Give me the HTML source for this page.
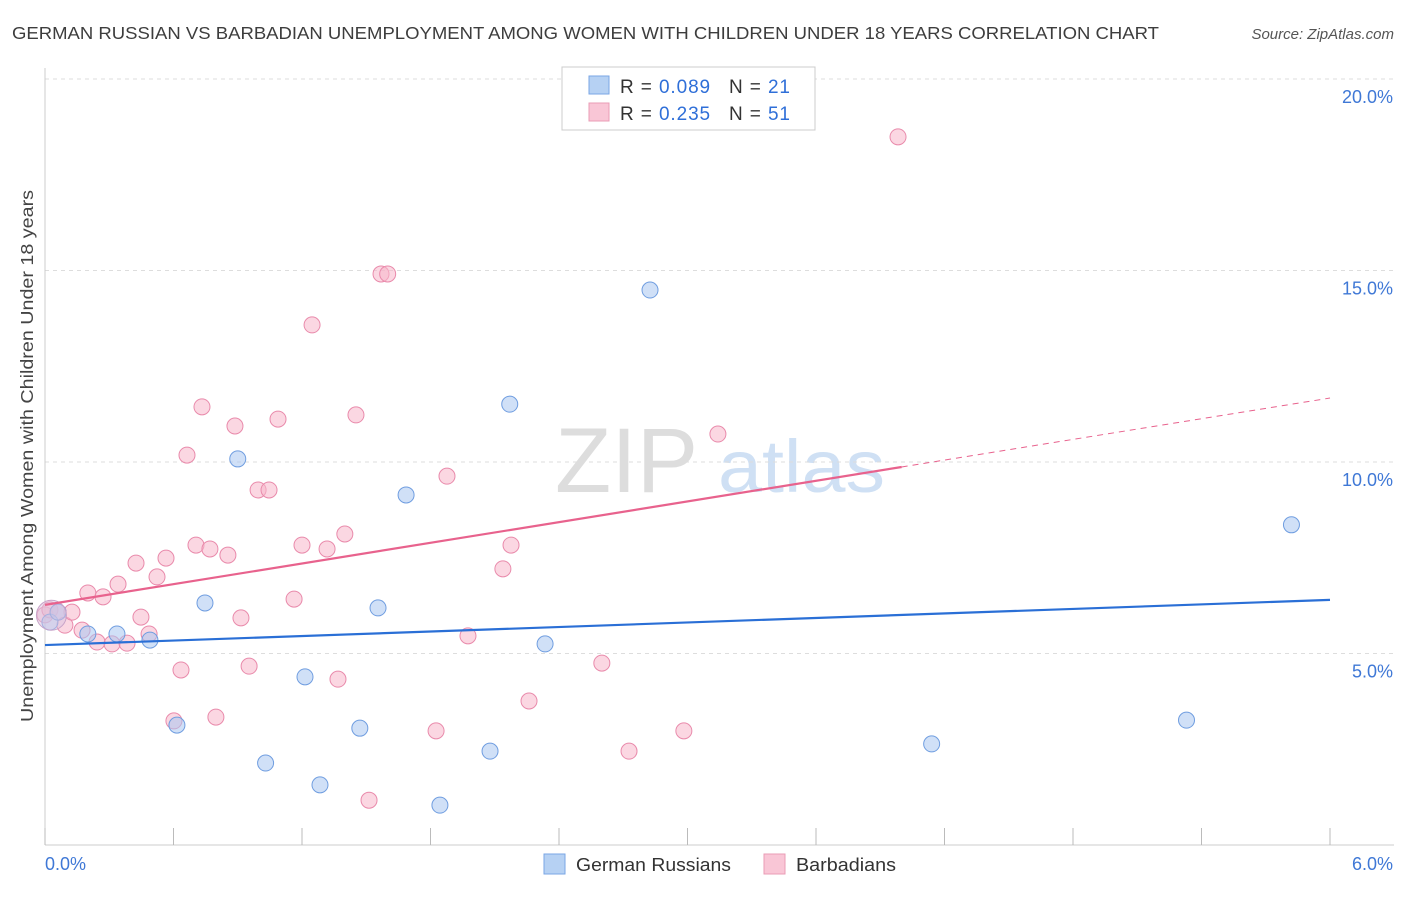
<!DOCTYPE html>
<html><head><meta charset="utf-8"><style>
body{margin:0;background:#fff;font-family:"Liberation Sans",sans-serif;}
svg text{font-family:"Liberation Sans",sans-serif;}
</style></head><body>
<svg id="c" width="1406" height="892">
<text x="12" y="39" font-size="17.5" fill="#3d3d3d" textLength="1147" lengthAdjust="spacingAndGlyphs">GERMAN RUSSIAN VS BARBADIAN UNEMPLOYMENT AMONG WOMEN WITH CHILDREN UNDER 18 YEARS CORRELATION CHART</text>
<text x="1394" y="39" font-size="15" fill="#555" font-style="italic" text-anchor="end">Source: ZipAtlas.com</text>
<text transform="translate(33,722) rotate(-90)" font-size="17.5" fill="#444" textLength="532" lengthAdjust="spacingAndGlyphs">Unemployment Among Women with Children Under 18 years</text>
<text x="555" y="492" font-size="92" fill="#ddd" font-family="Liberation Serif">ZIP</text>
<text x="718" y="492" font-size="74" fill="#cfe0f4" textLength="167" lengthAdjust="spacingAndGlyphs">atlas</text>
<g id="grid"></g><g id="marks"></g>
<g>
<rect x="562" y="67" width="253" height="63" fill="#fff" stroke="#ccc"/>
<rect x="589" y="76" width="20" height="18" fill="#b6d1f3" stroke="#7aa6e4"/>
<rect x="589" y="103" width="20" height="18" fill="#f9c6d6" stroke="#ea9cb6"/>
<text x="620" y="93" font-size="19" fill="#333" textLength="170" lengthAdjust="spacing">R = <tspan fill="#2f6fd8">0.089</tspan><tspan dx="18">N = </tspan><tspan fill="#2f6fd8">21</tspan></text>
<text x="620" y="120" font-size="19" fill="#333" textLength="170" lengthAdjust="spacing">R = <tspan fill="#2f6fd8"> 0.235</tspan><tspan dx="18">N = </tspan><tspan fill="#2f6fd8">51</tspan></text>
</g>
<g>
<rect x="544" y="854" width="21" height="20" fill="#b6d1f3" stroke="#7aa6e4"/>
<text x="576" y="871" font-size="18" fill="#333" textLength="155" lengthAdjust="spacingAndGlyphs">German Russians</text>
<rect x="764" y="854" width="21" height="20" fill="#f9c6d6" stroke="#ea9cb6"/>
<text x="796" y="871" font-size="18" fill="#333" textLength="100" lengthAdjust="spacingAndGlyphs">Barbadians</text>
</g>
</svg>
<script>
const blueX=[0.023,0.061,0.20,0.336,0.49,0.616,0.747,0.90,1.03,1.214,1.284,1.47,1.555,1.686,1.844,2.078,2.17,2.335,2.825,4.14,5.33,5.82];
const blueY=[5.82,6.08,5.51,5.51,5.35,3.13,6.32,10.08,2.14,4.39,1.57,3.05,6.19,9.14,1.04,2.45,11.51,5.25,14.49,2.64,3.26,8.36];
const pinkX=[0,0.023,0.061,0.093,0.126,0.173,0.20,0.243,0.271,0.313,0.341,0.383,0.425,0.448,0.486,0.523,0.565,0.635,0.602,0.663,0.705,0.733,0.770,0.798,0.854,0.887,0.915,0.953,0.995,1.046,1.088,1.163,1.20,1.247,1.317,1.368,1.40,1.452,1.513,1.569,1.60,1.826,1.877,1.975,2.138,2.176,2.26,2.60,2.727,2.983,3.142,3.983];
const pinkY=[6.01,6.14,6.08,5.74,6.08,5.61,6.58,5.30,6.48,5.25,6.81,5.27,7.36,5.95,5.51,7.00,7.49,4.57,3.24,10.18,7.83,11.44,7.73,3.34,7.57,10.94,5.93,4.67,9.27,9.27,11.12,6.42,7.83,13.58,7.73,4.33,8.12,11.23,1.17,14.91,14.91,2.98,9.63,5.46,7.21,7.83,3.76,4.75,2.45,2.98,10.73,18.49];
const yTicks=[5,10,15,20];
const yTickLabels=["5.0%","10.0%","15.0%","20.0%"];
const xTickLabels=["0.0%","6.0%"];
const blueTrend=[5.22,6.40];
const pinkTrend=[6.27,11.67];
const pinkSolidEnd=4.0;

const NS="http://www.w3.org/2000/svg";
const X=v=>45+v/6*1285, Y=v=>845-v/5*191.5;
function mk(t,a,p){const e=document.createElementNS(NS,t);for(const k in a)e.setAttribute(k,a[k]);p.appendChild(e);return e;}
const g=document.getElementById('grid'), m=document.getElementById('marks');
yTicks.forEach((t,i)=>{
 const l=mk('line',{x1:45,x2:1394,y1:Y(t),y2:Y(t),stroke:'#ddd','stroke-dasharray':'4,4'},g);
 
 
 const tx=mk('text',{x:1393,y:Y(t)+24,'font-size':18,fill:'#3f78d6','text-anchor':'end'},g);
 tx.textContent=yTickLabels[i];
 
 
});
const ax=mk('line',{x1:45,x2:45,y1:68,y2:845,stroke:'#ccc'},g);


const bx=mk('line',{x1:45,x2:1394,y1:845,y2:845,stroke:'#ccc'},g);


for(let i=0;i<=10;i++){const t=mk('line',{x1:X(i*0.6),x2:X(i*0.6),y1:828,y2:845,stroke:'#bbb'},g);
 
 }
[[0,45,'start'],[6,1393,'end']].forEach((d,i)=>{const t=mk('text',{x:d[1],y:870,'font-size':18,fill:'#3f78d6','text-anchor':d[2]},g);t.textContent=xTickLabels[i];
 
 });
function pts(xs,ys,fill,stroke,name){xs.forEach((x,i)=>{const c=mk('circle',{cx:X(x),cy:Y(ys[i]),r:8,fill:fill,'fill-opacity':0.55,stroke:stroke,'stroke-width':1},m);
 
 });}
pts(pinkX,pinkY,'#f7b6cb','#e98aab','barbadian-point');
pts(blueX,blueY,'#a9c7f0','#6f9de0','german-russian-point');
const big=mk('circle',{cx:X(0.03),cy:Y(6.0),r:15,fill:'#d9c3e0','fill-opacity':0.5,stroke:'#c8a3c8'},m);


const bl=mk('line',{x1:X(0),y1:Y(blueTrend[0]),x2:X(6),y2:Y(blueTrend[1]),stroke:'#2a6fd6','stroke-width':2.2},m);


const pv=x=>pinkTrend[0]+(pinkTrend[1]-pinkTrend[0])*x/6;
const pl=mk('line',{x1:X(0),y1:Y(pv(0)),x2:X(pinkSolidEnd),y2:Y(pv(pinkSolidEnd)),stroke:'#e8628d','stroke-width':2.2},m);


const pd=mk('line',{x1:X(pinkSolidEnd),y1:Y(pv(pinkSolidEnd)),x2:X(6),y2:Y(pv(6)),stroke:'#e8628d','stroke-width':1,'stroke-dasharray':'6,5'},m);


</script>
</body></html>
